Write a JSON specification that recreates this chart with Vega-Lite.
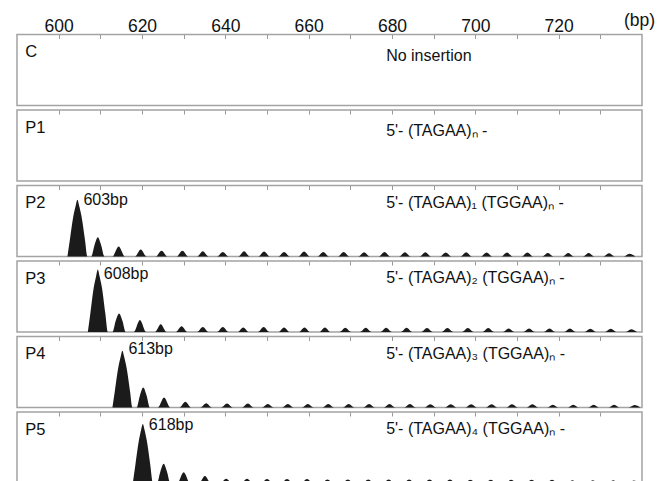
{
"$schema":"https://vega.github.io/schema/vega-lite/v6.json",
"padding":{"left":16,"top":10.5,"right":0,"bottom":0},
"spacing":1.5,
"datasets":{
"peaks":[
{"s":"P2","x":602.1,"y":0},{"s":"P2","x":602.7,"y":24},{"s":"P2","x":603.5,"y":56},{"s":"P2","x":604.1,"y":72},{"s":"P2","x":604.5,"y":80},{"s":"P2","x":604.9,"y":72},{"s":"P2","x":605.5,"y":56},{"s":"P2","x":606.3,"y":24},{"s":"P2","x":606.9,"y":0},
{"s":"P2","x":607.8,"y":0},{"s":"P2","x":608.6,"y":16},{"s":"P2","x":609.4,"y":27},{"s":"P2","x":610.2,"y":16},{"s":"P2","x":611.0,"y":0},
{"s":"P2","x":612.9,"y":0},{"s":"P2","x":614.4,"y":14},{"s":"P2","x":615.9,"y":0},
{"s":"P2","x":618.3,"y":0},{"s":"P2","x":619.7,"y":10},{"s":"P2","x":621.1,"y":0},
{"s":"P2","x":623.3,"y":0},{"s":"P2","x":624.7,"y":8},{"s":"P2","x":626.1,"y":0},
{"s":"P2","x":628.3,"y":0},{"s":"P2","x":629.7,"y":8},{"s":"P2","x":631.1,"y":0},
{"s":"P2","x":633.2,"y":0},{"s":"P2","x":634.6,"y":7.5},{"s":"P2","x":636.0,"y":0},
{"s":"P2","x":638.0,"y":0},{"s":"P2","x":639.4,"y":6.5},{"s":"P2","x":640.8,"y":0},
{"s":"P2","x":643.1,"y":0},{"s":"P2","x":644.5,"y":7.5},{"s":"P2","x":645.9,"y":0},
{"s":"P2","x":647.9,"y":0},{"s":"P2","x":649.3,"y":7},{"s":"P2","x":650.7,"y":0},
{"s":"P2","x":652.7,"y":0},{"s":"P2","x":654.1,"y":6.5},{"s":"P2","x":655.5,"y":0},
{"s":"P2","x":657.5,"y":0},{"s":"P2","x":658.9,"y":7},{"s":"P2","x":660.3,"y":0},
{"s":"P2","x":662.1,"y":0},{"s":"P2","x":663.5,"y":6.5},{"s":"P2","x":664.9,"y":0},
{"s":"P2","x":667.0,"y":0},{"s":"P2","x":668.4,"y":6.5},{"s":"P2","x":669.8,"y":0},
{"s":"P2","x":671.9,"y":0},{"s":"P2","x":673.3,"y":6},{"s":"P2","x":674.7,"y":0},
{"s":"P2","x":676.8,"y":0},{"s":"P2","x":678.2,"y":6.5},{"s":"P2","x":679.6,"y":0},
{"s":"P2","x":681.7,"y":0},{"s":"P2","x":683.1,"y":6},{"s":"P2","x":684.5,"y":0},
{"s":"P2","x":686.6,"y":0},{"s":"P2","x":688.0,"y":6},{"s":"P2","x":689.4,"y":0},
{"s":"P2","x":691.5,"y":0},{"s":"P2","x":692.9,"y":5.5},{"s":"P2","x":694.3,"y":0},
{"s":"P2","x":696.4,"y":0},{"s":"P2","x":697.8,"y":6},{"s":"P2","x":699.2,"y":0},
{"s":"P2","x":701.3,"y":0},{"s":"P2","x":702.7,"y":5.5},{"s":"P2","x":704.1,"y":0},
{"s":"P2","x":706.2,"y":0},{"s":"P2","x":707.6,"y":5.5},{"s":"P2","x":709.0,"y":0},
{"s":"P2","x":711.1,"y":0},{"s":"P2","x":712.5,"y":5.5},{"s":"P2","x":713.9,"y":0},
{"s":"P2","x":716.0,"y":0},{"s":"P2","x":717.4,"y":5},{"s":"P2","x":718.8,"y":0},
{"s":"P2","x":720.9,"y":0},{"s":"P2","x":722.3,"y":5},{"s":"P2","x":723.7,"y":0},
{"s":"P2","x":725.8,"y":0},{"s":"P2","x":727.2,"y":5},{"s":"P2","x":728.6,"y":0},
{"s":"P2","x":730.7,"y":0},{"s":"P2","x":732.1,"y":4.5},{"s":"P2","x":733.5,"y":0},
{"s":"P2","x":735.6,"y":0},{"s":"P2","x":737.0,"y":4},{"s":"P2","x":738.4,"y":0},

{"s":"P3","x":607.0,"y":0},{"s":"P3","x":607.6,"y":26},{"s":"P3","x":608.4,"y":62},{"s":"P3","x":609.0,"y":79},{"s":"P3","x":609.4,"y":88},{"s":"P3","x":609.8,"y":79},{"s":"P3","x":610.4,"y":62},{"s":"P3","x":611.2,"y":26},{"s":"P3","x":611.8,"y":0},
{"s":"P3","x":612.9,"y":0},{"s":"P3","x":613.7,"y":16},{"s":"P3","x":614.5,"y":26},{"s":"P3","x":615.3,"y":16},{"s":"P3","x":616.1,"y":0},
{"s":"P3","x":618.0,"y":0},{"s":"P3","x":619.5,"y":17},{"s":"P3","x":621.0,"y":0},
{"s":"P3","x":623.1,"y":0},{"s":"P3","x":624.5,"y":11},{"s":"P3","x":625.9,"y":0},
{"s":"P3","x":628.1,"y":0},{"s":"P3","x":629.5,"y":8},{"s":"P3","x":630.9,"y":0},
{"s":"P3","x":633.2,"y":0},{"s":"P3","x":634.6,"y":7},{"s":"P3","x":636.0,"y":0},
{"s":"P3","x":638.0,"y":0},{"s":"P3","x":639.4,"y":7},{"s":"P3","x":640.8,"y":0},
{"s":"P3","x":642.9,"y":0},{"s":"P3","x":644.3,"y":6.5},{"s":"P3","x":645.7,"y":0},
{"s":"P3","x":647.8,"y":0},{"s":"P3","x":649.2,"y":7},{"s":"P3","x":650.6,"y":0},
{"s":"P3","x":652.7,"y":0},{"s":"P3","x":654.1,"y":6.5},{"s":"P3","x":655.5,"y":0},
{"s":"P3","x":657.6,"y":0},{"s":"P3","x":659.0,"y":6.5},{"s":"P3","x":660.4,"y":0},
{"s":"P3","x":662.5,"y":0},{"s":"P3","x":663.9,"y":6.5},{"s":"P3","x":665.3,"y":0},
{"s":"P3","x":667.4,"y":0},{"s":"P3","x":668.8,"y":6},{"s":"P3","x":670.2,"y":0},
{"s":"P3","x":672.3,"y":0},{"s":"P3","x":673.7,"y":6},{"s":"P3","x":675.1,"y":0},
{"s":"P3","x":677.2,"y":0},{"s":"P3","x":678.6,"y":6},{"s":"P3","x":680.0,"y":0},
{"s":"P3","x":682.1,"y":0},{"s":"P3","x":683.5,"y":6},{"s":"P3","x":684.9,"y":0},
{"s":"P3","x":687.0,"y":0},{"s":"P3","x":688.4,"y":5.5},{"s":"P3","x":689.8,"y":0},
{"s":"P3","x":691.9,"y":0},{"s":"P3","x":693.3,"y":5.5},{"s":"P3","x":694.7,"y":0},
{"s":"P3","x":696.8,"y":0},{"s":"P3","x":698.2,"y":5.5},{"s":"P3","x":699.6,"y":0},
{"s":"P3","x":701.7,"y":0},{"s":"P3","x":703.1,"y":5.5},{"s":"P3","x":704.5,"y":0},
{"s":"P3","x":706.6,"y":0},{"s":"P3","x":708.0,"y":5},{"s":"P3","x":709.4,"y":0},
{"s":"P3","x":711.5,"y":0},{"s":"P3","x":712.9,"y":5},{"s":"P3","x":714.3,"y":0},
{"s":"P3","x":716.4,"y":0},{"s":"P3","x":717.8,"y":5},{"s":"P3","x":719.2,"y":0},
{"s":"P3","x":721.3,"y":0},{"s":"P3","x":722.7,"y":5},{"s":"P3","x":724.1,"y":0},
{"s":"P3","x":726.2,"y":0},{"s":"P3","x":727.6,"y":4.5},{"s":"P3","x":729.0,"y":0},
{"s":"P3","x":731.1,"y":0},{"s":"P3","x":732.5,"y":4.5},{"s":"P3","x":733.9,"y":0},
{"s":"P3","x":736.0,"y":0},{"s":"P3","x":737.4,"y":4},{"s":"P3","x":738.8,"y":0},

{"s":"P4","x":612.9,"y":0},{"s":"P4","x":613.5,"y":24},{"s":"P4","x":614.3,"y":56},{"s":"P4","x":614.9,"y":72},{"s":"P4","x":615.3,"y":80},{"s":"P4","x":615.7,"y":72},{"s":"P4","x":616.3,"y":56},{"s":"P4","x":617.1,"y":24},{"s":"P4","x":617.7,"y":0},
{"s":"P4","x":618.7,"y":0},{"s":"P4","x":619.5,"y":17},{"s":"P4","x":620.3,"y":28},{"s":"P4","x":621.1,"y":17},{"s":"P4","x":621.9,"y":0},
{"s":"P4","x":623.8,"y":0},{"s":"P4","x":625.3,"y":14},{"s":"P4","x":626.8,"y":0},
{"s":"P4","x":629.0,"y":0},{"s":"P4","x":630.4,"y":8},{"s":"P4","x":631.8,"y":0},
{"s":"P4","x":634.0,"y":0},{"s":"P4","x":635.4,"y":6},{"s":"P4","x":636.8,"y":0},
{"s":"P4","x":639.0,"y":0},{"s":"P4","x":640.4,"y":5.5},{"s":"P4","x":641.8,"y":0},
{"s":"P4","x":644.0,"y":0},{"s":"P4","x":645.4,"y":5.5},{"s":"P4","x":646.8,"y":0},
{"s":"P4","x":648.8,"y":0},{"s":"P4","x":650.2,"y":5},{"s":"P4","x":651.6,"y":0},
{"s":"P4","x":653.6,"y":0},{"s":"P4","x":655.0,"y":5},{"s":"P4","x":656.4,"y":0},
{"s":"P4","x":658.4,"y":0},{"s":"P4","x":659.8,"y":5},{"s":"P4","x":661.2,"y":0},
{"s":"P4","x":663.3,"y":0},{"s":"P4","x":664.7,"y":5},{"s":"P4","x":666.1,"y":0},
{"s":"P4","x":668.2,"y":0},{"s":"P4","x":669.6,"y":5},{"s":"P4","x":671.0,"y":0},
{"s":"P4","x":673.1,"y":0},{"s":"P4","x":674.5,"y":5},{"s":"P4","x":675.9,"y":0},
{"s":"P4","x":678.0,"y":0},{"s":"P4","x":679.4,"y":5},{"s":"P4","x":680.8,"y":0},
{"s":"P4","x":682.9,"y":0},{"s":"P4","x":684.3,"y":5},{"s":"P4","x":685.7,"y":0},
{"s":"P4","x":687.8,"y":0},{"s":"P4","x":689.2,"y":4.5},{"s":"P4","x":690.6,"y":0},
{"s":"P4","x":692.7,"y":0},{"s":"P4","x":694.1,"y":4.5},{"s":"P4","x":695.5,"y":0},
{"s":"P4","x":697.6,"y":0},{"s":"P4","x":699.0,"y":4.5},{"s":"P4","x":700.4,"y":0},
{"s":"P4","x":702.5,"y":0},{"s":"P4","x":703.9,"y":4.5},{"s":"P4","x":705.3,"y":0},
{"s":"P4","x":707.4,"y":0},{"s":"P4","x":708.8,"y":4.5},{"s":"P4","x":710.2,"y":0},
{"s":"P4","x":712.3,"y":0},{"s":"P4","x":713.7,"y":4.5},{"s":"P4","x":715.1,"y":0},
{"s":"P4","x":717.2,"y":0},{"s":"P4","x":718.6,"y":4},{"s":"P4","x":720.0,"y":0},
{"s":"P4","x":722.1,"y":0},{"s":"P4","x":723.5,"y":4},{"s":"P4","x":724.9,"y":0},
{"s":"P4","x":727.0,"y":0},{"s":"P4","x":728.4,"y":4},{"s":"P4","x":729.8,"y":0},
{"s":"P4","x":731.9,"y":0},{"s":"P4","x":733.3,"y":4},{"s":"P4","x":734.7,"y":0},
{"s":"P4","x":736.8,"y":0},{"s":"P4","x":738.2,"y":3.5},{"s":"P4","x":739.6,"y":0},

{"s":"P5","x":617.8,"y":0},{"s":"P5","x":618.4,"y":25},{"s":"P5","x":619.2,"y":58},{"s":"P5","x":619.8,"y":75},{"s":"P5","x":620.2,"y":83},{"s":"P5","x":620.6,"y":75},{"s":"P5","x":621.2,"y":58},{"s":"P5","x":622.0,"y":25},{"s":"P5","x":622.6,"y":0},
{"s":"P5","x":623.6,"y":0},{"s":"P5","x":624.4,"y":16},{"s":"P5","x":625.2,"y":27},{"s":"P5","x":626.0,"y":16},{"s":"P5","x":626.8,"y":0},
{"s":"P5","x":628.5,"y":0},{"s":"P5","x":630.0,"y":15},{"s":"P5","x":631.5,"y":0},
{"s":"P5","x":633.7,"y":0},{"s":"P5","x":635.1,"y":10},{"s":"P5","x":636.5,"y":0},
{"s":"P5","x":638.8,"y":0},{"s":"P5","x":640.2,"y":6},{"s":"P5","x":641.6,"y":0},
{"s":"P5","x":643.8,"y":0},{"s":"P5","x":645.2,"y":6},{"s":"P5","x":646.6,"y":0},
{"s":"P5","x":648.6,"y":0},{"s":"P5","x":650.0,"y":5.5},{"s":"P5","x":651.4,"y":0},
{"s":"P5","x":653.4,"y":0},{"s":"P5","x":654.8,"y":5.5},{"s":"P5","x":656.2,"y":0},
{"s":"P5","x":658.2,"y":0},{"s":"P5","x":659.6,"y":5.5},{"s":"P5","x":661.0,"y":0},
{"s":"P5","x":663.1,"y":0},{"s":"P5","x":664.5,"y":5},{"s":"P5","x":665.9,"y":0},
{"s":"P5","x":668.0,"y":0},{"s":"P5","x":669.4,"y":5},{"s":"P5","x":670.8,"y":0},
{"s":"P5","x":672.9,"y":0},{"s":"P5","x":674.3,"y":5},{"s":"P5","x":675.7,"y":0},
{"s":"P5","x":677.8,"y":0},{"s":"P5","x":679.2,"y":5},{"s":"P5","x":680.6,"y":0},
{"s":"P5","x":682.7,"y":0},{"s":"P5","x":684.1,"y":5},{"s":"P5","x":685.5,"y":0},
{"s":"P5","x":687.6,"y":0},{"s":"P5","x":689.0,"y":5},{"s":"P5","x":690.4,"y":0},
{"s":"P5","x":692.5,"y":0},{"s":"P5","x":693.9,"y":5},{"s":"P5","x":695.3,"y":0},
{"s":"P5","x":697.4,"y":0},{"s":"P5","x":698.8,"y":4.5},{"s":"P5","x":700.2,"y":0},
{"s":"P5","x":702.3,"y":0},{"s":"P5","x":703.7,"y":4.5},{"s":"P5","x":705.1,"y":0},
{"s":"P5","x":707.2,"y":0},{"s":"P5","x":708.6,"y":4.5},{"s":"P5","x":710.0,"y":0},
{"s":"P5","x":712.1,"y":0},{"s":"P5","x":713.5,"y":4.5},{"s":"P5","x":714.9,"y":0},
{"s":"P5","x":717.0,"y":0},{"s":"P5","x":718.4,"y":4.5},{"s":"P5","x":719.8,"y":0},
{"s":"P5","x":721.9,"y":0},{"s":"P5","x":723.3,"y":4},{"s":"P5","x":724.7,"y":0},
{"s":"P5","x":726.8,"y":0},{"s":"P5","x":728.2,"y":4},{"s":"P5","x":729.6,"y":0},
{"s":"P5","x":731.7,"y":0},{"s":"P5","x":733.1,"y":4},{"s":"P5","x":734.5,"y":0},
{"s":"P5","x":736.6,"y":0},{"s":"P5","x":738.0,"y":3.5},{"s":"P5","x":739.4,"y":0}
],
"names":[
{"s":"C","x":592,"y":75,"t":"C"},{"s":"P1","x":592,"y":75,"t":"P1"},{"s":"P2","x":592,"y":75,"t":"P2"},
{"s":"P3","x":592,"y":75,"t":"P3"},{"s":"P4","x":592,"y":75,"t":"P4"},{"s":"P5","x":592,"y":75,"t":"P5"}
],
"notes":[
{"s":"C","x":678.6,"y":70,"t":"No insertion"},
{"s":"P1","x":678.6,"y":70,"t":"5'- (TAGAA)ₙ -"},
{"s":"P2","x":678.6,"y":76,"t":"5'- (TAGAA)₁ (TGGAA)ₙ -"},
{"s":"P3","x":678.6,"y":76,"t":"5'- (TAGAA)₂ (TGGAA)ₙ -"},
{"s":"P4","x":678.6,"y":76,"t":"5'- (TAGAA)₃ (TGGAA)ₙ -"},
{"s":"P5","x":678.6,"y":76,"t":"5'- (TAGAA)₄ (TGGAA)ₙ -"}
],
"tags":[
{"s":"P2","x":604.5,"y":79,"t":"603bp"},
{"s":"P3","x":609.4,"y":82,"t":"608bp"},
{"s":"P4","x":615.3,"y":82,"t":"613bp"},
{"s":"P5","x":620.2,"y":82,"t":"618bp"}
]
},
"vconcat":[
{"width":625,"height":71,
 "encoding":{"x":{"field":"x","type":"quantitative","scale":{"domain":[590,740],"nice":false,"zero":false},
   "axis":{"orient":"top","values":[600,610,620,630,640,650,660,670,680,690,700,710,720,730],"labelExpr":"datum.value % 20 === 0 ? datum.label : ''","labelOverlap":false,"labelFlush":false,"labelBound":false,"labelBaseline":"middle","labelPadding":12.5,"title":"(bp)","titleX":622,"titleY":-14,"titleAngle":0,"titleAlign":"center","titleBaseline":"middle","titleFontSize":17.5,"titleFontWeight":"normal","titleColor":"#111111"}},
   "y":{"field":"y","type":"quantitative","scale":{"domain":[0,100]},"axis":null}},
 "layer":[
 {"data":{"name":"names"},"transform":[{"filter":"datum.s==='C'"}],"mark":{"type":"text","align":"left","baseline":"middle","fontSize":16.5},"encoding":{"text":{"field":"t"}}},
 {"data":{"name":"notes"},"transform":[{"filter":"datum.s==='C'"}],"mark":{"type":"text","align":"left","baseline":"middle","fontSize":16},"encoding":{"text":{"field":"t"}}}
]},
{"width":625,"height":71,
 "encoding":{"x":{"field":"x","type":"quantitative","scale":{"domain":[590,740],"nice":false,"zero":false},
   "axis":{"orient":"top","values":[600,610,620,630,640,650,660,670,680,690,700,710,720,730],"labels":false,"title":null}},
   "y":{"field":"y","type":"quantitative","scale":{"domain":[0,100]},"axis":null}},
 "layer":[
 {"data":{"name":"names"},"transform":[{"filter":"datum.s==='P1'"}],"mark":{"type":"text","align":"left","baseline":"middle","fontSize":16.5},"encoding":{"text":{"field":"t"}}},
 {"data":{"name":"notes"},"transform":[{"filter":"datum.s==='P1'"}],"mark":{"type":"text","align":"left","baseline":"middle","fontSize":16},"encoding":{"text":{"field":"t"}}}
]},
{"width":625,"height":71,
 "encoding":{"x":{"field":"x","type":"quantitative","scale":{"domain":[590,740],"nice":false,"zero":false},
   "axis":{"orient":"top","values":[600,610,620,630,640,650,660,670,680,690,700,710,720,730],"labels":false,"title":null}},
   "y":{"field":"y","type":"quantitative","scale":{"domain":[0,100]},"axis":null}},
 "layer":[
 {"data":{"name":"peaks"},"transform":[{"filter":"datum.s==='P2'"}],"mark":{"type":"area","interpolate":"monotone","color":"#1b1b1b"}},
 {"data":{"name":"names"},"transform":[{"filter":"datum.s==='P2'"}],"mark":{"type":"text","align":"left","baseline":"middle","fontSize":16.5},"encoding":{"text":{"field":"t"}}},
 {"data":{"name":"notes"},"transform":[{"filter":"datum.s==='P2'"}],"mark":{"type":"text","align":"left","baseline":"middle","fontSize":16},"encoding":{"text":{"field":"t"}}},
 {"data":{"name":"tags"},"transform":[{"filter":"datum.s==='P2'"}],"mark":{"type":"text","align":"left","baseline":"middle","fontSize":16,"dx":6},"encoding":{"text":{"field":"t"}}}
]},
{"width":625,"height":71,
 "encoding":{"x":{"field":"x","type":"quantitative","scale":{"domain":[590,740],"nice":false,"zero":false},
   "axis":{"orient":"top","values":[600,610,620,630,640,650,660,670,680,690,700,710,720,730],"labels":false,"title":null}},
   "y":{"field":"y","type":"quantitative","scale":{"domain":[0,100]},"axis":null}},
 "layer":[
 {"data":{"name":"peaks"},"transform":[{"filter":"datum.s==='P3'"}],"mark":{"type":"area","interpolate":"monotone","color":"#1b1b1b"}},
 {"data":{"name":"names"},"transform":[{"filter":"datum.s==='P3'"}],"mark":{"type":"text","align":"left","baseline":"middle","fontSize":16.5},"encoding":{"text":{"field":"t"}}},
 {"data":{"name":"notes"},"transform":[{"filter":"datum.s==='P3'"}],"mark":{"type":"text","align":"left","baseline":"middle","fontSize":16},"encoding":{"text":{"field":"t"}}},
 {"data":{"name":"tags"},"transform":[{"filter":"datum.s==='P3'"}],"mark":{"type":"text","align":"left","baseline":"middle","fontSize":16,"dx":6},"encoding":{"text":{"field":"t"}}}
]},
{"width":625,"height":71,
 "encoding":{"x":{"field":"x","type":"quantitative","scale":{"domain":[590,740],"nice":false,"zero":false},
   "axis":{"orient":"top","values":[600,610,620,630,640,650,660,670,680,690,700,710,720,730],"labels":false,"title":null}},
   "y":{"field":"y","type":"quantitative","scale":{"domain":[0,100]},"axis":null}},
 "layer":[
 {"data":{"name":"peaks"},"transform":[{"filter":"datum.s==='P4'"}],"mark":{"type":"area","interpolate":"monotone","color":"#1b1b1b"}},
 {"data":{"name":"names"},"transform":[{"filter":"datum.s==='P4'"}],"mark":{"type":"text","align":"left","baseline":"middle","fontSize":16.5},"encoding":{"text":{"field":"t"}}},
 {"data":{"name":"notes"},"transform":[{"filter":"datum.s==='P4'"}],"mark":{"type":"text","align":"left","baseline":"middle","fontSize":16},"encoding":{"text":{"field":"t"}}},
 {"data":{"name":"tags"},"transform":[{"filter":"datum.s==='P4'"}],"mark":{"type":"text","align":"left","baseline":"middle","fontSize":16,"dx":6},"encoding":{"text":{"field":"t"}}}
]},
{"width":625,"height":71,
 "encoding":{"x":{"field":"x","type":"quantitative","scale":{"domain":[590,740],"nice":false,"zero":false},
   "axis":{"orient":"top","values":[600,610,620,630,640,650,660,670,680,690,700,710,720,730],"labels":false,"title":null}},
   "y":{"field":"y","type":"quantitative","scale":{"domain":[0,100]},"axis":null}},
 "layer":[
 {"data":{"name":"peaks"},"transform":[{"filter":"datum.s==='P5'"}],"mark":{"type":"area","interpolate":"monotone","color":"#1b1b1b"}},
 {"data":{"name":"names"},"transform":[{"filter":"datum.s==='P5'"}],"mark":{"type":"text","align":"left","baseline":"middle","fontSize":16.5},"encoding":{"text":{"field":"t"}}},
 {"data":{"name":"notes"},"transform":[{"filter":"datum.s==='P5'"}],"mark":{"type":"text","align":"left","baseline":"middle","fontSize":16},"encoding":{"text":{"field":"t"}}},
 {"data":{"name":"tags"},"transform":[{"filter":"datum.s==='P5'"}],"mark":{"type":"text","align":"left","baseline":"middle","fontSize":16,"dx":6},"encoding":{"text":{"field":"t"}}}
]}
],
"config":{
 "font":"Liberation Sans",
 "view":{"stroke":"#a3a3a3","strokeWidth":1.5},
 "axis":{"domain":false,"grid":false,"tickColor":"#999999","tickSize":-4,"tickWidth":1,"labelFont":"Liberation Sans","labelFontSize":17.5,"labelColor":"#111111","titleFont":"Liberation Sans"},
 "text":{"font":"Liberation Sans","color":"#111111"}
}
}
